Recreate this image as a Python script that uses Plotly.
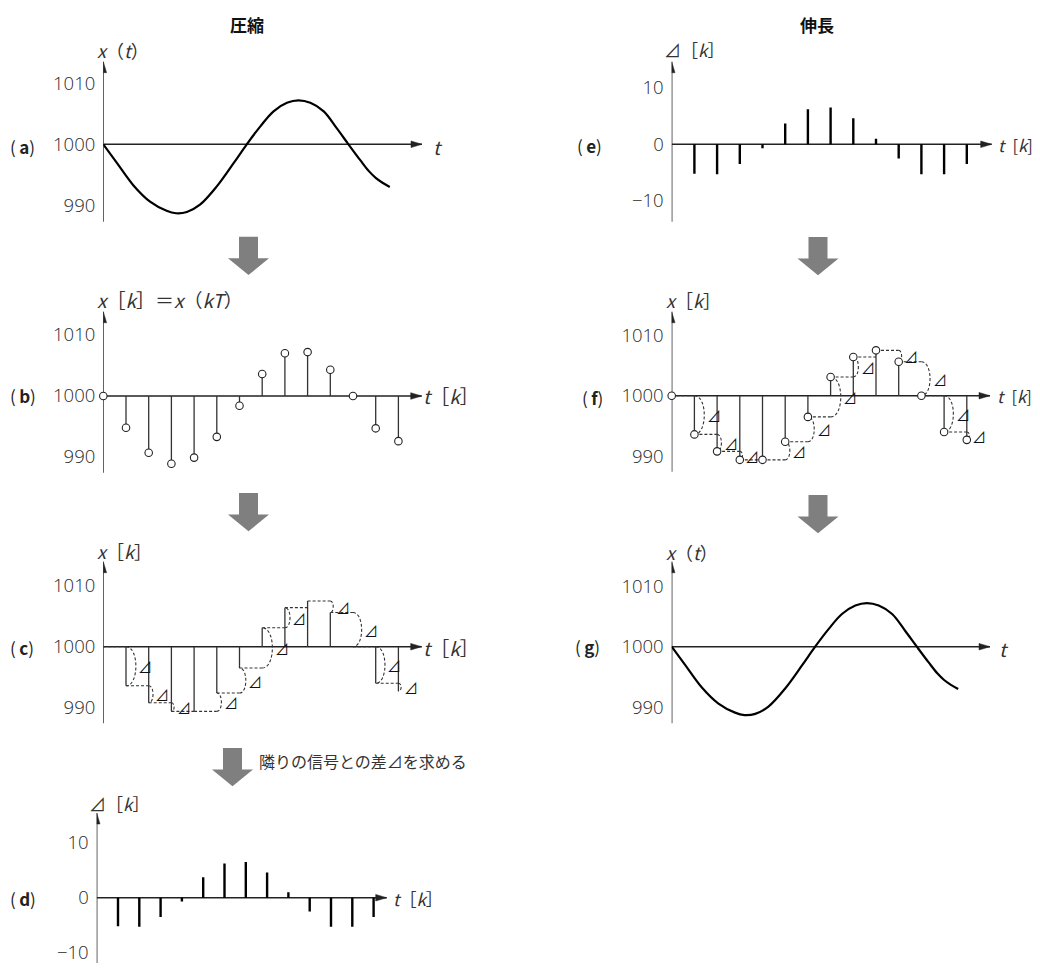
import plotly.graph_objects as go

# page body has an 8px margin: the figure is drawn 8px in from the window corner
OFF = 8
W, H = 1040 - 2 * OFF, 971 - 2 * OFF

# ---------------- data ----------------
k_idx = list(range(14))
# (b) sampled signal x[k] = x(kT)
x_sampled = [1000.0, 994.8, 990.7, 988.9, 989.9, 993.3, 998.4, 1003.6,
             1007.0, 1007.2, 1004.3, 1000.0, 994.7, 992.6]
# (c)/(f) signal with differences drawn
x_steps = [1000.0, 993.6, 990.8, 989.4, 989.4, 992.4, 996.5, 1003.1,
           1006.4, 1007.5, 1005.6, 1000.0, 994.0, 992.7]
# indices k where a difference arc + label is drawn
arc_ks = [1, 2, 3, 5, 6, 7, 8, 10, 11, 12, 13]
# (d)/(e) differences delta[k], k = 1..13
k_delta = list(range(1, 14))
delta = [-5.2, -5.3, -3.5, -0.7, 3.7, 6.2, 6.5, 4.6, 1.0, -2.5, -5.3, -5.3, -3.5]
# (a)/(g) continuous signal x(t), t in units of the sample period
curve_t = [0, 0.59, 1.32, 2.06, 2.79, 3.2, 3.68, 4.26, 5.0, 5.74, 6.32, 6.91,
           7.5, 8.09, 8.6, 9.12, 9.71, 10.29, 10.8, 11.32, 11.7, 12.0, 12.3, 12.62]
curve_v = [1000, 997.0, 993.3, 990.6, 989.1, 988.7, 988.9, 990.1, 993.1, 996.9,
           1000, 1002.9, 1005.4, 1006.8, 1007.2, 1006.8, 1005.4, 1002.6, 1000,
           997.4, 995.6, 994.5, 993.7, 993.0]

x_ticks = [990, 1000, 1010]
x_ticktext = ["990", "1000", "1010"]
d_ticks = [-10, 0, 10]
d_ticktext = ["\u221210", "0", "10"]

# ---------------- layout of the panels (window pixels) ----------------
# name, origin x, origin y, px per k, px per unit, baseline, y-axis top, bottom, x arrow tip
panels = [
    ("a", 103.3, 144.3, 22.7, 6.1, 1000, 61.7, 221.7, 422.0),
    ("b", 103.3, 396.0, 22.7, 6.1, 1000, 311.7, 472.7, 421.7),
    ("c", 103.3, 646.7, 22.7, 6.1, 1000, 561.7, 723.3, 421.7),
    ("d", 96.7, 897.7, 21.3, 5.5, 0, 813.0, 971.0, 386.7),
    ("e", 671.7, 144.3, 22.7, 5.65, 0, 61.7, 221.7, 991.7),
    ("f", 671.7, 395.7, 22.7, 6.05, 1000, 311.7, 471.7, 990.0),
    ("g", 671.7, 646.7, 22.7, 6.05, 1000, 561.7, 723.3, 990.0),
]

LINE = "#222222"
TXT = "#333333"
JP = "Noto Sans CJK JP"
NUM = "Open Sans"

fig = go.Figure()
layout = dict(width=W, height=H, margin=dict(l=0, r=0, t=0, b=0),
              paper_bgcolor="white", plot_bgcolor="rgba(0,0,0,0)",
              showlegend=False)
shapes = []
annotations = []
pinfo = {}


def px(xp):
    return (xp - OFF) / W


def py(yp):
    return 1 - (yp - OFF) / H


for i, (name, ox, oy, sx, sy, base, top, bot, xtip) in enumerate(panels):
    n = i + 1
    xa = "xaxis" if n == 1 else f"xaxis{n}"
    ya = "yaxis" if n == 1 else f"yaxis{n}"
    L, R = ox, xtip + 8
    T, B = top - 8, min(bot + 4, H + OFF)
    xr = [(L - ox) / sx, (R - ox) / sx]
    yr = [base + (oy - B) / sy, base + (oy - T) / sy]
    is_delta = base == 0
    layout[xa] = dict(domain=[px(L), px(R)], range=xr, visible=False,
                      anchor=f"y{n}", fixedrange=True)
    layout[ya] = dict(domain=[max(py(B), 0), py(T)], range=yr, anchor=f"x{n}",
                      showline=False, showgrid=False, zeroline=False,
                      ticks="", ticklabelstandoff=7, fixedrange=True,
                      ticklabeloverflow="allow",
                      tickvals=d_ticks if is_delta else x_ticks,
                      ticktext=d_ticktext if is_delta else x_ticktext,
                      tickfont=dict(family=NUM, size=18.5, color="#2a2a2a", weight=300))
    xref, yref = f"x{n}", f"y{n}"
    tip = (xtip - ox) / sx
    ytop = base + (oy - top) / sy
    ybot = base + (oy - bot) / sy
    pinfo[name] = (xref, yref)
    # axis lines
    shapes.append(dict(type="line", xref=xref, yref=yref, x0=0, y0=base,
                       x1=tip, y1=base, layer="below",
                       line=dict(color=LINE, width=1.4)))
    shapes.append(dict(type="line", xref=xref, yref=yref, x0=0, y0=ybot,
                       x1=0, y1=ytop, layer="below",
                       line=dict(color=LINE, width=1.4)))
    # arrow heads
    shapes.append(dict(type="path", xref=xref, yref=yref,
                       xsizemode="pixel", ysizemode="pixel",
                       xanchor=tip, yanchor=base,
                       path="M 0,0 L -11,3.3 L -11,-3.3 Z",
                       fillcolor=LINE, line=dict(color=LINE, width=0.5)))
    shapes.append(dict(type="path", xref=xref, yref=yref,
                       xsizemode="pixel", ysizemode="pixel",
                       xanchor=0, yanchor=ytop,
                       path="M 0,0 L -3.3,-11 L 3.3,-11 Z",
                       fillcolor=LINE, line=dict(color=LINE, width=0.5)))


def stems(ks, vals, base):
    xs, ys = [], []
    for k, v in zip(ks, vals):
        xs += [k, k, None]
        ys += [base, v, None]
    return xs, ys


# (a) and (g) continuous curve
for nm in ("a", "g"):
    xr_, yr_ = pinfo[nm]
    fig.add_trace(go.Scatter(x=curve_t, y=curve_v, mode="lines",
                             line=dict(color="black", width=2.2, shape="spline",
                                       smoothing=1.0),
                             xaxis=xr_, yaxis=yr_, hoverinfo="skip"))

# (b) sampled stems with circles
xr_, yr_ = pinfo["b"]
sxs, sys_ = stems(k_idx, x_sampled, 1000)
fig.add_trace(go.Scatter(x=sxs, y=sys_, mode="lines",
                         line=dict(color="#333333", width=1.3),
                         xaxis=xr_, yaxis=yr_, hoverinfo="skip"))
fig.add_trace(go.Scatter(x=k_idx, y=x_sampled, mode="markers", cliponaxis=False,
                         marker=dict(symbol="circle", size=7.5, color="white",
                                     line=dict(color="#222222", width=1.1)),
                         xaxis=xr_, yaxis=yr_, hoverinfo="skip"))

# (c) and (f) stems, dashed steps, arcs and delta labels
for nm in ("c", "f"):
    xr_, yr_ = pinfo[nm]
    sxs, sys_ = stems(k_idx, x_steps, 1000)
    fig.add_trace(go.Scatter(x=sxs, y=sys_, mode="lines",
                             line=dict(color="#333333", width=1.3),
                             xaxis=xr_, yaxis=yr_, hoverinfo="skip"))
    hx, hy = [], []
    for k in range(1, len(k_idx)):
        hx += [k - 1, k, None]
        hy += [x_steps[k - 1], x_steps[k - 1], None]
    fig.add_trace(go.Scatter(x=hx, y=hy, mode="lines",
                             line=dict(color="#333333", width=1.1, dash="3px,2px"),
                             xaxis=xr_, yaxis=yr_, hoverinfo="skip"))
    for k in arc_ks:
        y0, y1 = x_steps[k - 1], x_steps[k]
        d = abs(y1 - y0)
        w = min(max(0.068 * d, 0.12), 0.45)
        b = w / 0.75
        shapes.append(dict(type="path", xref=xr_, yref=yr_, layer="below",
                           path=f"M {k},{y0} C {k + b},{y0} {k + b},{y1} {k},{y1}",
                           line=dict(color="#333333", width=1.1, dash="3px,2px")))
        annotations.append(dict(xref=xr_, yref=yr_, x=k + w + 0.02,
                                y=(y0 + y1) / 2, text="\u22bf", showarrow=False,
                                xanchor="left", yanchor="middle",
                                font=dict(family=JP, size=14, color="#111")))
    if nm == "f":
        fig.add_trace(go.Scatter(x=k_idx, y=x_steps, mode="markers",
                                 cliponaxis=False,
                                 marker=dict(symbol="circle", size=7.5, color="white",
                                             line=dict(color="#222222", width=1.1)),
                                 xaxis=xr_, yaxis=yr_, hoverinfo="skip"))

# (d) and (e) difference stems
for nm in ("d", "e"):
    xr_, yr_ = pinfo[nm]
    sxs, sys_ = stems(k_delta, delta, 0)
    fig.add_trace(go.Scatter(x=sxs, y=sys_, mode="lines",
                             line=dict(color="black", width=2.4),
                             xaxis=xr_, yaxis=yr_, hoverinfo="skip"))


# ---------------- texts ----------------
def text(xp, yp, s, size=18, anchor="left", family=JP, color=TXT):
    annotations.append(dict(xref="paper", yref="paper", x=px(xp), y=py(yp),
                            text=s, showarrow=False, xanchor=anchor,
                            yanchor="middle",
                            font=dict(family=family, size=size, color=color)))


text(247, 24, "<b>圧縮</b>", 17, "center", color="#111")
text(817, 24, "<b>伸長</b>", 17, "center", color="#111")

xt = "<i>x</i>（<i>t</i>）"
xk = "<i>x</i>［<i>k</i>］"
dk = "\u22bf［<i>k</i>］"
tk = "<i>t</i>［<i>k</i>］"
tk_edge = "<i>t</i>\u2002[<i>k</i>]"

text(95, 50, xt, 18)
text(431, 146, "<i>t</i>", 19)
text(95, 300, "<i>x</i>［<i>k</i>］＝<i>x</i>（<i>kT</i>）", 19)
text(421, 396, tk, 19)
text(95, 551, xk, 18)
text(421, 647, tk, 19)
text(87, 803, dk, 17)
text(391, 898, tk, 17)
text(662, 50, dk, 17)
text(996, 145, tk_edge, 16.5)
text(995, 396, tk_edge, 16.5)
text(664, 300, xk, 18)
text(664, 552, xt, 18)
text(997, 648, "<i>t</i>", 19)

for lab, xp, yp in [("a", 8, 146), ("b", 8, 396), ("c", 8, 647), ("d", 8, 898),
                    ("e", 575, 145), ("f", 580, 397), ("g", 573, 646)]:
    text(xp, yp, f"(\u2009<b>{lab}</b>)", 17, family=JP, color="#222")

text(257, 761, "隣りの信号との差\u22bfを求める", 16)


# ---------------- gray block arrows ----------------
def block_arrow(cx, top):
    sw, sh, hw, hh = 19, 21.6, 41, 16.7
    pts = [(cx - sw / 2, top), (cx + sw / 2, top), (cx + sw / 2, top + sh),
           (cx + hw / 2, top + sh), (cx, top + sh + hh), (cx - hw / 2, top + sh),
           (cx - sw / 2, top + sh)]
    path = "M " + " L ".join(f"{px(a):.5f},{py(b):.5f}" for a, b in pts) + " Z"
    shapes.append(dict(type="path", xref="paper", yref="paper", path=path,
                       fillcolor="#7f7f7f", line=dict(width=0)))


block_arrow(248.5, 236.7)
block_arrow(248.5, 493)
block_arrow(232.5, 748)
block_arrow(818, 237)
block_arrow(818, 495)

layout["shapes"] = shapes
layout["annotations"] = annotations
fig.update_layout(**layout)
fig.write_html("out.html")
